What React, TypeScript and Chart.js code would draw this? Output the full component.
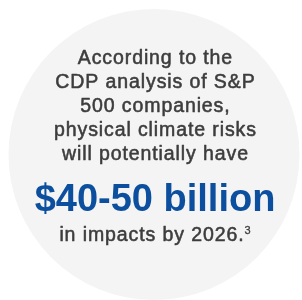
import React, { useEffect, useRef } from "react";
import { Chart, registerables } from "chart.js";

Chart.register(...registerables);

const categories = ["Physical climate risk"];
const seriesValues = [100];
const bodyLines = [
  "According to the",
  "CDP analysis of S&P",
  "500 companies,",
  "physical climate risks",
  "will potentially have",
];
const headline = "$40-50 billion";
const footerText = "in impacts by 2026.";
const footnoteMark = "3";

const FONT = "'Liberation Sans', Arial, Helvetica, sans-serif";
const GRAY = "#3d3d3d";

function medText(ctx: any, text: string, x: number, y: number) {
  ctx.fillText(text, x, y);
  ctx.strokeText(text, x, y);
}

const textPlugin = {
  id: "centerText",
  afterDraw(chart: any) {
    const ctx = chart.ctx as any;
    const cx = 155;
    ctx.save();
    ctx.textBaseline = "alphabetic";
    ctx.textAlign = "left";
    ctx.fillStyle = GRAY;
    ctx.strokeStyle = GRAY;
    ctx.lineWidth = 0.55;
    ctx.lineJoin = "round";
    ctx.font = `19.5px ${FONT}`;
    ctx.letterSpacing = "0.9px";
    bodyLines.forEach((line, i) => {
      const w = ctx.measureText(line).width - 0.9;
      medText(ctx, line, cx - w / 2, 63.5 + i * 24.2);
    });
    ctx.letterSpacing = "0px";
    ctx.fillStyle = "#0b4f9e";
    ctx.font = `bold 38px ${FONT}`;
    const hw = ctx.measureText(headline).width;
    ctx.fillText(headline, cx - hw / 2, 211);
    // footer with superscript
    ctx.fillStyle = GRAY;
    ctx.font = `19.5px ${FONT}`;
    ctx.letterSpacing = "0.9px";
    const w1 = ctx.measureText(footerText).width;
    ctx.letterSpacing = "0px";
    ctx.font = `11px ${FONT}`;
    const w2 = ctx.measureText(footnoteMark).width;
    const start = cx - (w1 + w2) / 2;
    ctx.font = `19.5px ${FONT}`;
    ctx.letterSpacing = "0.9px";
    medText(ctx, footerText, start, 240.5);
    ctx.letterSpacing = "0px";
    ctx.font = `11px ${FONT}`;
    ctx.lineWidth = 0.3;
    medText(ctx, footnoteMark, start + w1, 233.5);
    ctx.restore();
  },
};

export default function App() {
  const ref = useRef<HTMLCanvasElement | null>(null);
  useEffect(() => {
    if (!ref.current) return;
    const chart = new Chart(ref.current, {
      type: "pie",
      data: {
        labels: categories,
        datasets: [
          {
            data: seriesValues,
            backgroundColor: ["#f4f4f4"],
            borderWidth: 0,
            hoverOffset: 0,
          },
        ],
      },
      options: {
        animation: false,
        responsive: true,
        maintainAspectRatio: false,
        layout: { padding: { left: 8, right: 2, top: 9, bottom: 0 } },
        plugins: {
          legend: { display: false },
          tooltip: { enabled: false },
          title: { display: false },
        },
        events: [],
      },
      plugins: [textPlugin],
    });
    return () => chart.destroy();
  }, []);
  return (
    <div style={{ position: "fixed", left: 0, top: 0, width: 302, height: 300, background: "#ffffff" }}>
      <canvas ref={ref} />
    </div>
  );
}
